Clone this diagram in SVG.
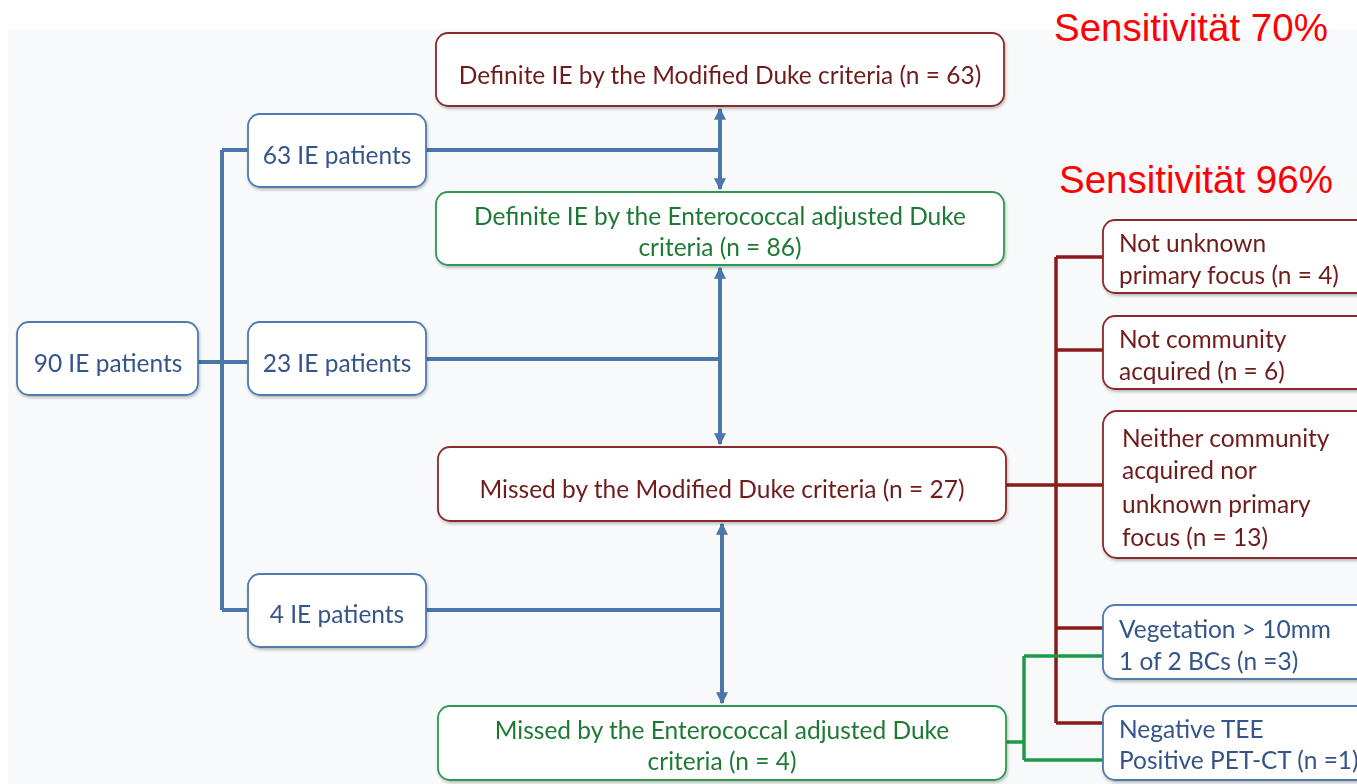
<svg xmlns="http://www.w3.org/2000/svg" width="1357" height="784" viewBox="0 0 1357 784">
<style>
.box{fill:#ffffff;stroke-width:1.8}
.b{stroke:#4f7bb0}
.r{stroke:#8b2a2a}
.g{stroke:#2e9a50}
text{font-family:Lato,"Open Sans","Liberation Sans",sans-serif;font-size:24.5px}
.tb{fill:#34548a}
.tr{fill:#6e1a1a}
.tg{fill:#1e7a36}
.sens{font-family:"Liberation Sans",Arial,sans-serif;font-size:38.5px;fill:#ff0000}
.cb{stroke:#4a76a8;stroke-width:4;fill:none}
.cr{stroke:#8b1a1a;stroke-width:3.5;fill:none}
.cg{stroke:#1e9a4a;stroke-width:3.5;fill:none}
</style>
<defs>
<marker id="ah" viewBox="0 0 10 10" refX="9" refY="5" markerWidth="3" markerHeight="3" orient="auto-start-reverse">
<path d="M0,0 L10,5 L0,10 z" fill="#4a76a8"/>
</marker>
<filter id="sh" x="-5%" y="-5%" width="110%" height="120%">
<feDropShadow dx="1" dy="2" stdDeviation="1.5" flood-color="#000" flood-opacity="0.25"/>
</filter>
</defs>
<rect x="0" y="0" width="1357" height="784" fill="#ffffff"/>
<rect x="8" y="29" width="1349" height="755" fill="#f8f9fa"/>

<g id="connectors">
<path class="cb" d="M198,362 H248 M222,150 V610 M222,150 H248 M222,610 H248"/>
<path class="cb" d="M426,150 H720 M426,359 H720 M426,610 H722"/>
<path class="cb" d="M720,109 V189" marker-start="url(#ah)" marker-end="url(#ah)"/>
<path class="cb" d="M720,268 V444" marker-start="url(#ah)" marker-end="url(#ah)"/>
<path class="cb" d="M722,524 V703" marker-start="url(#ah)" marker-end="url(#ah)"/>
<path class="cr" d="M1006,485 H1103 M1056,257 V723 M1056,257 H1103 M1056,350 H1103 M1056,628 H1103 M1056,723 H1103"/>
<path class="cg" d="M1006,742 H1024 M1024,656 V760 M1024,656 H1103 M1024,760 H1103"/>
</g>

<g id="sens70"><text class="sens" x="1054" y="41">Sensitivität 70%</text></g>
<g id="sens96"><text class="sens" x="1059" y="193">Sensitivität 96%</text></g>

<g id="n90" filter="url(#sh)"><rect class="box b" x="17" y="322" width="181" height="73" rx="12"/><text class="tb" x="108" y="372" text-anchor="middle">90 IE patients</text></g>
<g id="n63" filter="url(#sh)"><rect class="box b" x="248" y="114" width="178" height="73" rx="12"/><text class="tb" x="337" y="164" text-anchor="middle">63 IE patients</text></g>
<g id="n23" filter="url(#sh)"><rect class="box b" x="248" y="322" width="178" height="73" rx="12"/><text class="tb" x="337" y="372" text-anchor="middle">23 IE patients</text></g>
<g id="n4" filter="url(#sh)"><rect class="box b" x="248" y="574" width="178" height="73" rx="12"/><text class="tb" x="337" y="623" text-anchor="middle">4 IE patients</text></g>

<g id="defMod" filter="url(#sh)"><rect class="box r" x="436" y="33" width="568" height="73" rx="12"/><text class="tr" x="720" y="84" text-anchor="middle">Definite IE by the Modified Duke criteria (n = 63)</text></g>
<g id="defEnt" filter="url(#sh)"><rect class="box g" x="436" y="192" width="568" height="73" rx="12"/><text class="tg" x="720" y="225" text-anchor="middle">Definite IE by the Enterococcal adjusted Duke</text><text class="tg" x="720" y="256" text-anchor="middle">criteria (n = 86)</text></g>
<g id="missMod" filter="url(#sh)"><rect class="box r" x="438" y="447" width="568" height="74" rx="12"/><text class="tr" x="722" y="498" text-anchor="middle">Missed by the Modified Duke criteria (n = 27)</text></g>
<g id="missEnt" filter="url(#sh)"><rect class="box g" x="438" y="706" width="568" height="74" rx="12"/><text class="tg" x="722" y="739" text-anchor="middle">Missed by the Enterococcal adjusted Duke</text><text class="tg" x="722" y="770" text-anchor="middle">criteria (n = 4)</text></g>

<g id="notUnknown" filter="url(#sh)"><rect class="box r" x="1103" y="220" width="270" height="73" rx="12"/><text class="tr" x="1119" y="252">Not unknown</text><text class="tr" x="1119" y="284">primary focus (n = 4)</text></g>
<g id="notCommunity" filter="url(#sh)"><rect class="box r" x="1103" y="316" width="270" height="73" rx="12"/><text class="tr" x="1119" y="348">Not community</text><text class="tr" x="1119" y="380">acquired (n = 6)</text></g>
<g id="neither" filter="url(#sh)"><rect class="box r" x="1103" y="411" width="270" height="147" rx="14"/><text class="tr" x="1122" y="447">Neither community</text><text class="tr" x="1122" y="479">acquired nor</text><text class="tr" x="1122" y="513">unknown primary</text><text class="tr" x="1122" y="546">focus (n = 13)</text></g>
<g id="vegetation" filter="url(#sh)"><rect class="box b" x="1103" y="605" width="270" height="74" rx="12"/><text class="tb" x="1119" y="638">Vegetation &gt; 10mm</text><text class="tb" x="1119" y="670">1 of 2 BCs (n =3)</text></g>
<g id="negTEE" filter="url(#sh)"><rect class="box b" x="1103" y="706" width="270" height="74" rx="12"/><text class="tb" x="1119" y="738">Negative TEE</text><text class="tb" x="1119" y="769">Positive PET-CT (n =1)</text></g>
</svg>
